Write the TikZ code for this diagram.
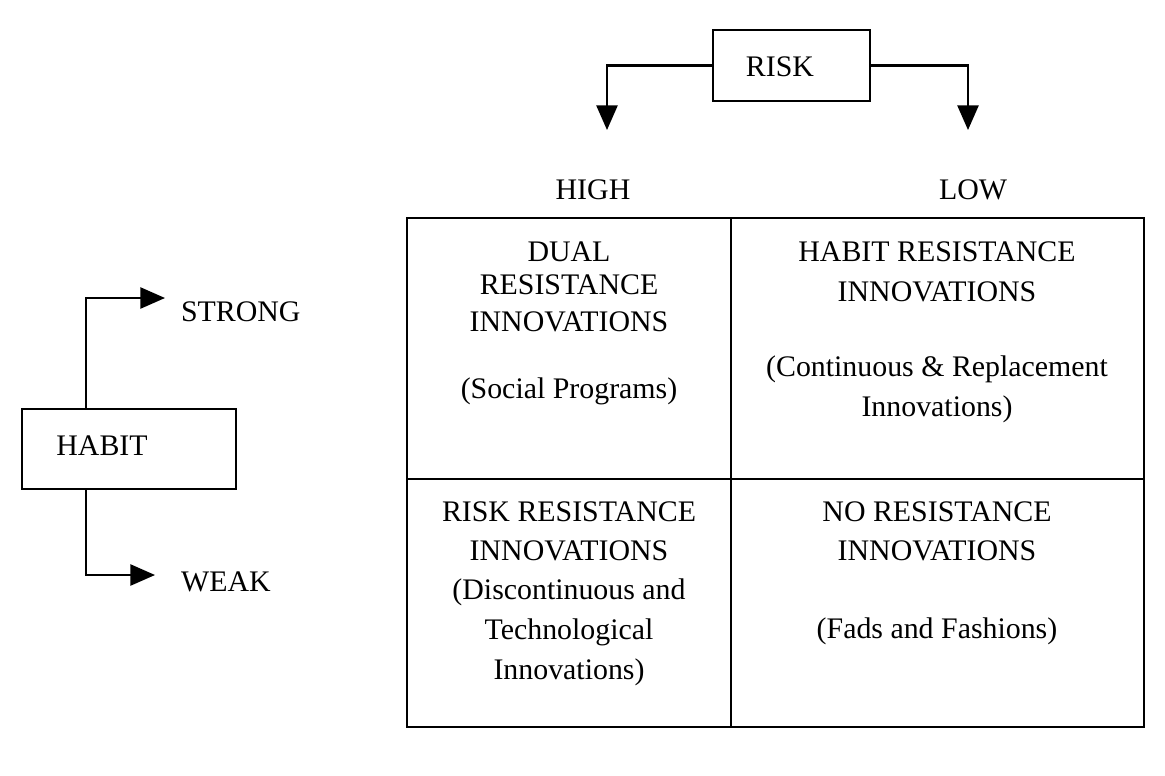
\documentclass[tikz,border=0pt]{standalone}
\usepackage{fontspec}
\setmainfont{Liberation Serif}
\usetikzlibrary{positioning, arrows.meta}
\tikzset{
  lbl/.style={font=\fontsize{17}{20}\selectfont, inner sep=0pt, anchor=center},
  box/.style={draw, line width=1.2pt},
  arr/.style={line width=1.2pt, -{Triangle[length=14pt,width=12pt]}}
}
\begin{document}
\begin{tikzpicture}[x=0.02cm, y=-0.02cm, line width=1.2pt]
  \useasboundingbox (0,0) rectangle (1165,775);

  % risk
  \node[box, minimum width=157*0.02cm, minimum height=71*0.02cm] (risk) at (791.5,65.5) {};
  \node[lbl] (risktxt) at (780,67) {RISK};
  \coordinate (rl) at (607,130);
  \coordinate (rr) at (968,130);
  \draw[arr] (risk.west) -| (rl);
  \draw[arr] (risk.east) -| (rr);
  \node[lbl] (high) at (593,190) {HIGH};
  \node[lbl] (low) at (973,190) {LOW};

  % habit
  \node[box, minimum width=214*0.02cm, minimum height=80*0.02cm] (habit) at (129,449) {};
  \node[lbl] (habittxt) at (102,446) {HABIT};
  \coordinate (hs) at (165,298);
  \coordinate (hw) at (155,575);
  \draw[arr] (habit.north -| 86,0) |- (hs);
  \draw[arr] (habit.south -| 86,0) |- (hw);
  \node[lbl, anchor=west] (strong) at (180,312) {STRONG};
  \node[lbl, anchor=west] (weak) at (180,582) {WEAK};

  % grid
  \draw (407,218) rectangle (1144,727);
  \draw (731,218) -- (731,727);
  \draw (407,479) -- (1144,479);

  % cells
  \node[lbl] (tl1) at (569,252) {DUAL};
  \node[lbl] (tl2) at (569,285) {RESISTANCE};
  \node[lbl] (tl3) at (569,322) {INNOVATIONS};
  \node[lbl] (tl4) at (569,391) {(Social Programs)};
  \node[lbl] (tr1) at (937,252) {HABIT RESISTANCE};
  \node[lbl] (tr2) at (937,292) {INNOVATIONS};
  \node[lbl] (tr3) at (937,369) {(Continuous \& Replacement};
  \node[lbl] (tr4) at (937,409) {Innovations)};
  \node[lbl] (bl1) at (569,512) {RISK RESISTANCE};
  \node[lbl] (bl2) at (569,551) {INNOVATIONS};
  \node[lbl] (bl3) at (569,592) {(Discontinuous and};
  \node[lbl] (bl4) at (569,632) {Technological};
  \node[lbl] (bl5) at (569,672) {Innovations)};
  \node[lbl] (br1) at (937,512) {NO RESISTANCE};
  \node[lbl] (br2) at (937,551) {INNOVATIONS};
  \node[lbl] (br3) at (937,631) {(Fads and Fashions)};
\end{tikzpicture}
\end{document}
